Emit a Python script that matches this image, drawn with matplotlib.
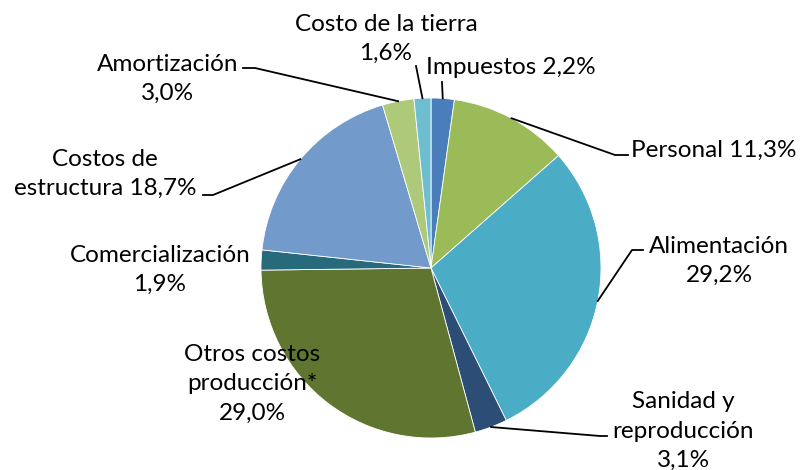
import numpy as np
import matplotlib.pyplot as plt

# data
names = ["Impuestos ", "Personal ", "Alimentación\n", "Sanidad y\nreproducción\n",
         "Otros costos\nproducción*\n", "Comercialización\n", "Costos de\nestructura ",
         "Amortización\n", "Costo de la tierra\n"]
shares = [2.2, 11.3, 29.2, 3.1, 29.0, 1.9, 18.7, 3.0, 1.6]
colors = ["#4A7EBB", "#9BBB59", "#4BACC6", "#2C4D75", "#5F7530",
          "#276A7C", "#729ACA", "#AFC97A", "#6FBDD1"]

W, H = 800, 470
cx, cy, r = 431, 268, 170  # pixel coords, y down

# label layout: (x, y) centres and leader points after the wedge edge (y down)
text_pos = [(511, 68), (714, 150), (719, 261), (683, 431), (252, 384),
            (160, 270), (105, 174), (168, 79), (386, 39)]
leaders = [[(442, 82)], [(615, 155), (628, 155)], [(632, 250), (643, 250)],
           [(600, 436), (607, 436)], [], [], [(213, 195), (203, 195)],
           [(255, 68), (243, 68)], [(416, 66)]]

plt.rcParams['font.family'] = ['Lato', 'DejaVu Sans']

fig = plt.figure(figsize=(W / 100, H / 100), dpi=100)
ax = fig.add_axes([0, 0, 1, 1])

wedges, _ = ax.pie(shares, colors=colors, startangle=90, counterclock=False,
                   center=(cx, H - cy), radius=r, frame=True,
                   wedgeprops=dict(edgecolor='white', linewidth=0.6))
ax.set_xlim(0, W)
ax.set_ylim(0, H)
ax.set_aspect('equal')
ax.axis('off')

for w, name, v, (tx, ty), pts in zip(wedges, names, shares, text_pos, leaders):
    label = name + f"{v:.1f}%".replace('.', ',')
    ax.text(tx, H - ty, label, ha='center', va='center', multialignment='center',
            fontsize=17.5, linespacing=1.5, color='black')
    if pts:
        mid = np.deg2rad((w.theta1 + w.theta2) / 2)
        xs = [cx + r * np.cos(mid)] + [p[0] for p in pts]
        ys = [H - cy + r * np.sin(mid)] + [H - p[1] for p in pts]
        ax.plot(xs, ys, color='black', linewidth=1.3)

fig.savefig('out.png', dpi=100)
